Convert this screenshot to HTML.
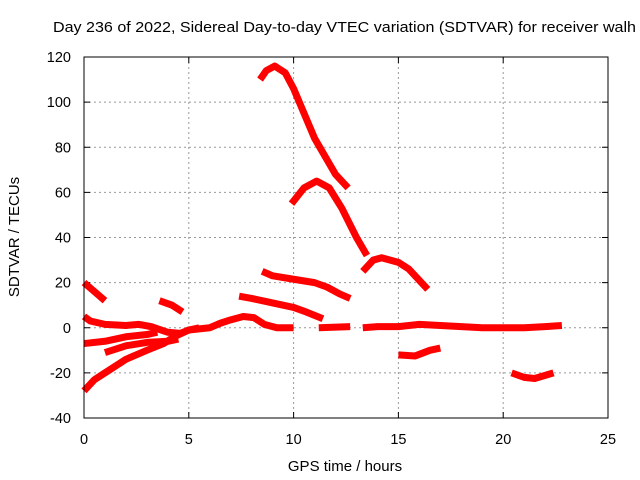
<!DOCTYPE html>
<html><head><meta charset="utf-8"><style>
body{margin:0;background:#fff}
svg{display:block;font-family:"Liberation Sans",sans-serif}
</style></head><body>
<svg id="chart" width="640" height="480">
<text x="53" y="32" font-size="15" textLength="583" lengthAdjust="spacingAndGlyphs">Day 236 of 2022, Sidereal Day-to-day VTEC variation (SDTVAR) for receiver walh</text>
<g id="grid"></g>
<g id="ticks"></g>
<g id="series"></g>
<rect x="84" y="57" width="524" height="361" fill="none" stroke="#000" stroke-width="1"/>
<text x="345" y="471" text-anchor="middle" font-size="15">GPS time / hours</text>
<text transform="translate(19,237) rotate(-90)" text-anchor="middle" font-size="15">SDTVAR / TECUs</text>
</svg>
<script>
const xTicks=[0,5,10,15,20,25];
const yTicks=[-40,-20,0,20,40,60,80,100,120];
const track1=[[0,20],[0.5,16],[1,12]];
const track2=[[0,5],[0.3,3],[1,1.5],[2,1],[2.6,1.5],[3.2,0.5],[4,-2],[4.6,-2.5],[5,-1],[6,0],[6.5,2],[7,3.5],[7.6,5],[8.1,4.5],[8.6,1.5],[9.2,0],[10,0]];
const track3=[[0,-7],[1,-6],[2,-4],[3,-3],[3.5,-2]];
const track4=[[1,-11],[2,-8],[3,-6.5],[4,-6],[4.5,-5]];
const track5=[[0,-28],[0.5,-23],[1,-20],[2,-14],[3,-10],[3.8,-7],[4.3,-4],[5,-1],[5.5,0]];
const track6=[[3.6,12],[4.2,10],[4.7,7]];
const track7=[[7.4,14],[8,13],[9,11],[10,9],[10.6,7],[11.4,4]];
const track8=[[8.5,25],[9,23],[10,21.5],[11,20],[11.6,18],[12.2,15],[12.7,13]];
const track9=[[8.4,110],[8.7,114],[9.1,116],[9.6,113],[10,106],[11,84],[12,68],[12.6,62]];
const track10=[[9.9,55],[10.5,62],[11.1,65],[11.7,62],[12.3,53],[13,40],[13.5,32]];
const track11=[[13.3,25],[13.8,30],[14.2,31],[15,29],[15.5,26],[16.4,17]];
const track12=[[11.2,0],[12.7,0.5]];
const track13=[[13.3,0],[14,0.5],[15,0.5],[16,1.5],[17,1],[18,0.5],[19,0],[20,0],[21,0],[22,0.5],[22.8,1]];
const track14=[[15,-12],[15.8,-12.5],[16.5,-10],[17,-9]];
const track15=[[20.4,-20],[21,-22],[21.5,-22.5],[22.4,-20]];
const tracks=[track1,track2,track3,track4,track5,track6,track7,track8,track9,track10,track11,track12,track13,track14,track15];
const X0=84,X1=608,Y0=418,Y1=57;
const sx=v=>X0+(v-0)/25*(X1-X0);
const sy=v=>Y0-(v+40)/160*(Y0-Y1);
const NS="http://www.w3.org/2000/svg";
const grid=document.getElementById('grid'),ticks=document.getElementById('ticks'),ser=document.getElementById('series');
function mk(tag,at,p){const e=document.createElementNS(NS,tag);for(const k in at)e.setAttribute(k,at[k]);p.appendChild(e);return e;}
xTicks.forEach(t=>{const x=sx(t);
 if(t>0&&t<25){const l=mk('line',{x1:x,x2:x,y1:Y1,y2:Y0,stroke:'#999','stroke-dasharray':'2,3'},grid);
 
 }
 mk('line',{x1:x,x2:x,y1:Y0,y2:Y0-6,stroke:'#000'},ticks);mk('line',{x1:x,x2:x,y1:Y1,y2:Y1+6,stroke:'#000'},ticks);
 const tx=mk('text',{x:x,y:Y0+26,'text-anchor':'middle','font-size':'14.5'},ticks);tx.textContent=t;
 
 });
yTicks.forEach(t=>{const y=sy(t);
 if(t>-40&&t<120){const l=mk('line',{x1:X0,x2:X1,y1:y,y2:y,stroke:'#999','stroke-dasharray':'2,3'},grid);
 
 }
 mk('line',{x1:X0,x2:X0+6,y1:y,y2:y,stroke:'#000'},ticks);mk('line',{x1:X1,x2:X1-6,y1:y,y2:y,stroke:'#000'},ticks);
 const tx=mk('text',{x:X0-13,y:y+5,'text-anchor':'end','font-size':'14.5'},ticks);tx.textContent=t;
 
 });
tracks.forEach((tr,i)=>{
 const p=mk('polyline',{points:tr.map(d=>sx(d[0])+','+sy(d[1])).join(' '),fill:'none',stroke:'#f00','stroke-width':'7','stroke-linejoin':'round','stroke-linecap':'butt'},ser);
 
 
});
</script>
</body></html>
